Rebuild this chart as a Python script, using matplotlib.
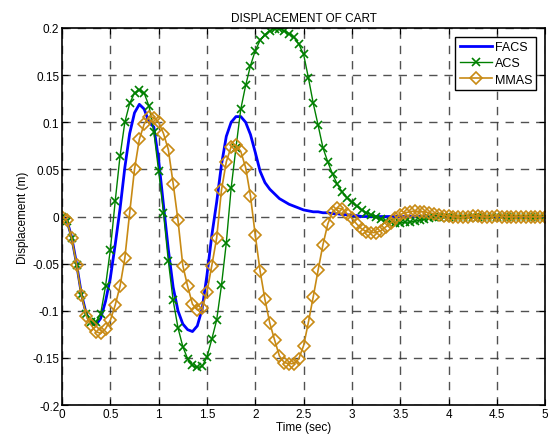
import numpy as np
import matplotlib
matplotlib.use("Agg")
import matplotlib.pyplot as plt

plt.rcParams['font.family'] = ['Liberation Sans', 'DejaVu Sans']

# time grid (sec)
t = np.round(np.arange(0, 5.0001, 0.05), 2)

facs = [0.000, -0.004, -0.022, -0.050, -0.082, -0.103, -0.113, -0.115, -0.108, -0.090,
        -0.065, -0.030, 0.008, 0.052, 0.088, 0.110, 0.119, 0.114, 0.100, 0.095,
        0.060, 0.012, -0.035, -0.075, -0.100, -0.114, -0.120, -0.122, -0.116, -0.098,
        -0.062, -0.020, 0.015, 0.055, 0.085, 0.100, 0.106, 0.106, 0.100, 0.087,
        0.068, 0.048, 0.036, 0.029, 0.024, 0.019, 0.016, 0.013, 0.011, 0.009,
        0.007, 0.006, 0.005, 0.005, 0.004, 0.004, 0.003, 0.003, 0.002, 0.002,
        0.001, 0.001, 0.000, 0.000, 0.000, 0.000, 0.000, 0.000, 0.000, 0.000,
        0.000, 0.000, 0.000, 0.000, 0.000, 0.000, 0.000, 0.000, 0.000, 0.000,
        0.000, 0.000, 0.000, 0.000, 0.000, 0.000, 0.000, 0.000, 0.000, 0.000,
        0.000, 0.000, 0.000, 0.000, 0.000, 0.000, 0.000, 0.000, 0.000, 0.000,
        0.000]

acs = [0.000, -0.005, -0.023, -0.051, -0.083, -0.103, -0.112, -0.112, -0.103, -0.074,
       -0.035, 0.016, 0.064, 0.100, 0.120, 0.131, 0.134, 0.131, 0.117, 0.090,
       0.048, 0.004, -0.047, -0.089, -0.118, -0.138, -0.151, -0.158, -0.160, -0.159,
       -0.149, -0.130, -0.110, -0.073, -0.028, 0.030, 0.073, 0.114, 0.139, 0.160,
       0.176, 0.187, 0.193, 0.197, 0.199, 0.199, 0.197, 0.194, 0.190, 0.183,
       0.172, 0.147, 0.120, 0.097, 0.073, 0.058, 0.045, 0.034, 0.026, 0.020,
       0.015, 0.011, 0.007, 0.004, 0.002, -0.001, -0.003, -0.005, -0.006, -0.007,
       -0.007, -0.006, -0.006, -0.005, -0.004, -0.003, -0.002, -0.001, -0.001, 0.000,
       0.000, 0.000, 0.000, 0.000, 0.000, 0.000, 0.000, 0.000, 0.000, 0.000,
       0.000, 0.000, 0.000, 0.000, 0.000, 0.000, 0.000, 0.000, 0.000, 0.000,
       0.000]

mmas = [0.000, -0.004, -0.023, -0.051, -0.083, -0.105, -0.115, -0.122, -0.124, -0.119,
        -0.110, -0.094, -0.074, -0.044, 0.004, 0.050, 0.082, 0.098, 0.106, 0.105,
        0.100, 0.088, 0.071, 0.035, -0.004, -0.052, -0.074, -0.093, -0.099, -0.097,
        -0.080, -0.052, -0.023, 0.028, 0.058, 0.074, 0.076, 0.069, 0.052, 0.022,
        -0.020, -0.058, -0.088, -0.113, -0.131, -0.148, -0.155, -0.156, -0.156, -0.151,
        -0.137, -0.112, -0.085, -0.057, -0.030, -0.008, 0.005, 0.009, 0.008, 0.003,
        -0.002, -0.008, -0.013, -0.016, -0.017, -0.017, -0.015, -0.011, -0.007, -0.002,
        0.002, 0.004, 0.005, 0.006, 0.005, 0.005, 0.004, 0.003, 0.002, 0.001,
        0.001, 0.000, -0.001, -0.001, 0.000, 0.001, 0.001, 0.000, -0.001, 0.000,
        0.001, 0.000, 0.000, 0.000, 0.000, 0.000, 0.000, 0.000, 0.000, 0.000,
        0.000]

xticks = [0, 0.5, 1, 1.5, 2, 2.5, 3, 3.5, 4, 4.5, 5]
xticklabels = ['0', '0.5', '1', '1.5', '2', '2.5', '3', '3.5', '4', '4.5', '5']
yticks = [-0.2, -0.15, -0.1, -0.05, 0, 0.05, 0.1, 0.15, 0.2]
yticklabels = ['-0.2', '-0.15', '-0.1', '-0.05', '0', '0.05', '0.1', '0.15', '0.2']

fig = plt.figure(figsize=(5.49, 4.39), dpi=100)
ax = fig.add_axes([0.113, 0.075, 0.880, 0.859])

gold = '#c88a14'
ax.plot(t, facs, color='#0000ff', lw=2, label='FACS')
ax.plot(t, acs, color='#008000', lw=1, marker='x', ms=6, mew=1.2, label='ACS')
ax.plot(t, mmas, color=gold, lw=1.2, marker='D', ms=6.5, mfc='none', mec=gold,
        mew=1.2, label='MMAS')

ax.set_xlim(0, 5)
ax.set_ylim(-0.2, 0.2)
ax.set_xticks(xticks)
ax.set_xticklabels(xticklabels)
ax.set_yticks(yticks)
ax.set_yticklabels(yticklabels)
ax.tick_params(direction='in', top=True, right=True, labelsize=8.5, length=4, pad=2)
ax.grid(True, color='#333333', linestyle=(0, (6, 5)), lw=1, alpha=0.85)
for s in ax.spines.values():
    s.set_linewidth(1.2)

ax.set_title('DISPLACEMENT OF CART', fontsize=8.5, pad=5)
ax.set_xlabel('Time (sec)', fontsize=8.5, labelpad=1)
ax.set_ylabel('Displacement (m)', fontsize=8.5, labelpad=2)

leg = ax.legend(loc='upper right', fontsize=9, fancybox=False, framealpha=1,
                edgecolor='black', handlelength=2.6, borderpad=0.35,
                labelspacing=0.35, handletextpad=0.2, borderaxespad=0.7)
leg.get_frame().set_linewidth(1)

fig.savefig('out.png', dpi=100)
